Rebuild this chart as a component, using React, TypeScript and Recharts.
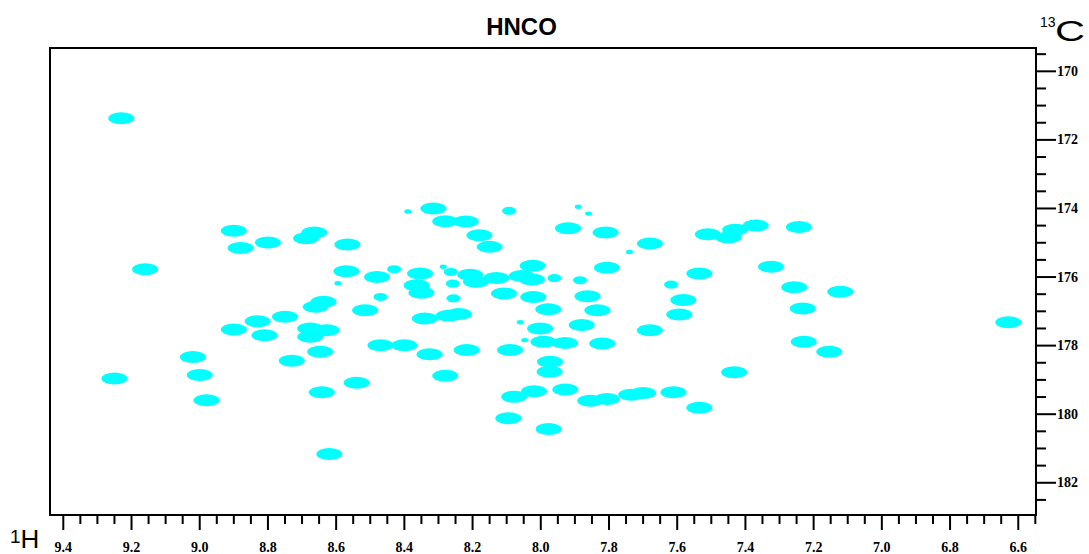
import React from 'react';
import { ScatterChart, Scatter, XAxis, YAxis, ReferenceArea } from 'recharts';

// 1H (ppm) axis tick labels and 13C (ppm) axis tick labels
const hMajorTicks = [9.4, 9.2, 9.0, 8.8, 8.6, 8.4, 8.2, 8.0, 7.8, 7.6, 7.4, 7.2, 7.0, 6.8, 6.6];
const cMajorTicks = [170, 172, 174, 176, 178, 180, 182];
const hDomain = [6.548, 9.439];
const cDomain = [169.32, 182.94];

// Peaks: [1H ppm, 13C ppm]
const strongPeaks: [number, number][] = [
  [9.23, 171.37], [9.16, 175.77], [8.90, 174.65], [8.88, 175.15], [8.80, 174.99],
  [8.83, 177.29], [8.75, 177.16], [8.90, 177.53], [8.81, 177.70], [9.02, 178.33],
  [9.00, 178.86], [9.25, 178.96], [8.98, 179.59], [8.73, 178.44], [8.315, 174.0],
  [8.28, 174.37], [8.22, 174.38], [8.18, 174.78], [8.15, 175.12], [7.92, 174.58],
  [7.81, 174.70], [7.68, 175.02], [8.664, 174.70], [8.688, 174.87], [8.567, 175.05],
  [8.57, 175.83], [8.48, 176.0], [8.354, 175.90], [8.364, 176.24], [8.35, 176.46],
  [8.207, 175.93], [8.19, 176.14], [8.13, 176.03], [8.056, 175.97], [8.026, 176.07],
  [8.024, 175.67], [7.806, 175.73], [8.108, 176.48], [8.022, 176.58], [7.863, 176.56],
  [7.834, 176.97], [7.978, 176.94], [7.68, 177.55], [8.002, 177.50], [7.88, 177.40],
  [8.27, 177.13], [8.24, 177.08], [8.34, 177.21], [8.515, 176.97], [8.637, 176.72],
  [8.66, 176.87], [8.676, 177.50], [8.628, 177.55], [8.676, 177.74], [8.647, 178.18],
  [8.47, 177.99], [8.40, 177.99], [8.326, 178.25], [8.217, 178.13], [8.09, 178.13],
  [7.992, 177.89], [7.929, 177.92], [7.82, 177.94], [7.973, 178.47], [7.974, 178.76],
  [8.28, 178.88], [8.078, 179.49], [8.02, 179.33], [7.928, 179.28], [7.855, 179.61],
  [7.806, 179.56], [7.735, 179.43], [7.70, 179.38], [7.611, 179.36], [8.095, 180.12],
  [7.977, 180.43], [8.62, 181.16], [8.54, 179.08], [8.642, 179.36], [7.51, 174.75],
  [7.45, 174.85], [7.43, 174.62], [7.37, 174.50], [7.243, 174.54], [7.535, 175.90],
  [7.325, 175.70], [7.257, 176.30], [7.122, 176.43], [7.582, 176.67], [7.594, 177.09],
  [7.232, 176.92], [6.629, 177.32], [7.229, 177.89], [7.154, 178.18], [7.433, 178.78],
  [7.535, 179.81],
];
const weakPeaks: [number, number][] = [
  [8.093, 174.07], [7.618, 176.22], [8.264, 175.85], [8.258, 176.19], [8.47, 176.58],
  [8.256, 176.62], [8.43, 175.77], [7.96, 176.03], [7.885, 176.09],
];
const tinyPeaks: [number, number][] = [
  [7.89, 173.95], [7.86, 174.15], [8.286, 175.70], [7.74, 175.27], [8.39, 174.09],
  [8.06, 177.32], [8.595, 176.18], [8.047, 177.84],
];

const toPoints = (arr: [number, number][]) => arr.map(([h, c]) => ({ h, c }));

const r2 = (v: number) => Math.round(v * 1000) / 1000;
const hTicks: number[] = [];
hMajorTicks.forEach((m) => {
  [0, 0.05, 0.1, 0.15].forEach((d) => {
    const v = r2(m - d);
    if (v >= hDomain[0] && v <= hDomain[1]) hTicks.push(v);
  });
});
const cTicks: number[] = [];
cMajorTicks.forEach((m) => {
  [-0.5, 0, 0.5, 1, 1.5].forEach((d) => {
    const v = r2(m + d);
    if (v >= cDomain[0] && v <= cDomain[1] && !cTicks.includes(v)) cTicks.push(v);
  });
});

const CYAN = '#00FFFF';
const tickFont = '"Liberation Serif", "Times New Roman", serif';
const sansFont = '"Liberation Sans", Arial, sans-serif';

const HTick = (props: any) => {
  const { x, y, payload } = props;
  const v = payload.value;
  const major = hMajorTicks.some((m) => Math.abs(m - v) < 1e-6);
  return (
    <g>
      <line x1={x} x2={x} y1={y} y2={y + (major ? 15 : 9)} stroke="#000" strokeWidth={2} />
      {major && (
        <text x={x} y={y + 37} textAnchor="middle" fontFamily={tickFont} fontWeight="bold" fontSize={14} fill="#000">
          {v.toFixed(1)}
        </text>
      )}
    </g>
  );
};

const CTick = (props: any) => {
  const { x, y, payload } = props;
  const v = payload.value;
  const major = cMajorTicks.some((m) => Math.abs(m - v) < 1e-6);
  return (
    <g>
      <line x1={x} x2={x + (major ? 20 : 10)} y1={y} y2={y} stroke="#000" strokeWidth={2} />
      {major && (
        <text x={x + 21} y={y + 4.5} textAnchor="start" fontFamily={tickFont} fontWeight="bold" fontSize={14} fill="#000">
          {String(v)}
        </text>
      )}
    </g>
  );
};

const ellipseShape = (rx: number, ry: number) => (props: any) => (
  <ellipse cx={props.cx} cy={props.cy} rx={rx} ry={ry} fill={CYAN} />
);

export default function App() {
  return (
    <div style={{ position: 'absolute', left: 0, top: 0, width: 1089, height: 554, background: '#fff' }}>
      <ScatterChart width={1089} height={554} margin={{ top: 48, right: 13, bottom: 9, left: 50 }}>
        <XAxis
          type="number"
          dataKey="h"
          domain={hDomain}
          reversed
          allowDataOverflow
          ticks={hTicks}
          interval={0}
          tick={<HTick />}
          tickLine={false}
          axisLine={false}
          tickSize={0}
          tickMargin={0}
          height={30}
        />
        <YAxis
          type="number"
          dataKey="c"
          domain={cDomain}
          reversed
          allowDataOverflow
          orientation="right"
          ticks={cTicks}
          interval={0}
          tick={<CTick />}
          tickLine={false}
          axisLine={false}
          tickSize={0}
          tickMargin={0}
          width={40}
        />
        <Scatter data={toPoints(strongPeaks)} shape={ellipseShape(13, 6)} isAnimationActive={false} />
        <Scatter data={toPoints(weakPeaks)} shape={ellipseShape(7, 4)} isAnimationActive={false} />
        <Scatter data={toPoints(tinyPeaks)} shape={ellipseShape(3.5, 2.2)} isAnimationActive={false} />
        <ReferenceArea
          x1={hDomain[0]}
          x2={hDomain[1]}
          y1={cDomain[0]}
          y2={cDomain[1]}
          fill="none"
          fillOpacity={0}
          stroke="#000"
          strokeWidth={2}
        />
      </ScatterChart>
      <svg width={1089} height={554} style={{ position: 'absolute', left: 0, top: 0, pointerEvents: 'none' }}>
        <text x={521.5} y={35} textAnchor="middle" fontFamily={sansFont} fontWeight="bold" fontSize={24} fill="#000">
          HNCO
        </text>
        <text x={1040} y={27} fontFamily={sansFont} fontSize={14} fill="#000">13</text>
        <text x={1055} y={41} fontFamily={sansFont} fontSize={30} fill="#000" textLength={30} lengthAdjust="spacingAndGlyphs">C</text>
        <text x={10} y={543} fontFamily={sansFont} fontSize={19} fill="#000">1</text>
        <text x={20.5} y={548} fontFamily={sansFont} fontSize={26} fill="#000">H</text>
      </svg>
    </div>
  );
}
